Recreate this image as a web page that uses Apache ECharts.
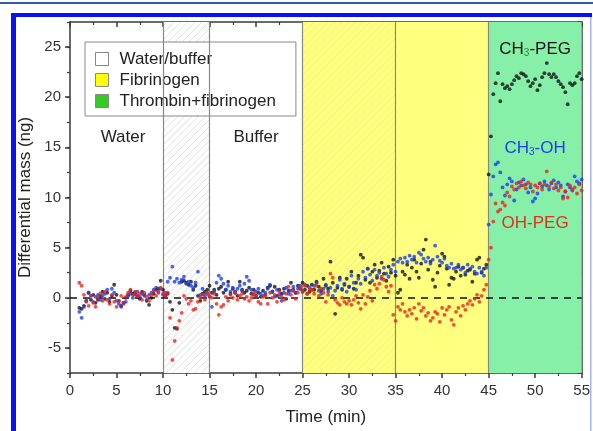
<!DOCTYPE html>
<html>
<head>
<meta charset="utf-8">
<script src="https://cdn.jsdelivr.net/npm/echarts@6/dist/echarts.min.js"></script>
<style>
  html, body { margin: 0; padding: 0; background: #fff; }
  #chart { width: 593px; height: 431px; }
</style>
</head>
<body>
<div id="chart"></div>
<script>
// sampling: first point at 1 min, one point every 0.25 min
const T0 = 1;
const DT = 0.25;

// CH3-PEG (black)
const ch3Peg = [
  -1.0,-1.1,-0.8,-0.3,0.5,-0.2,0.3,-0.5,-0.2,0.2,0.6,-0.1,0.5,-0.4,0.2,1.3,0.3,-0.3,-0.8,-0.5,
  0.0,0.3,0.7,0.4,0.5,0.2,-0.1,0.6,0.3,-0.3,-0.7,0.0,0.4,0.8,0.9,1.7,0.8,0.2,0.4,-0.4,
  -1.2,-3.0,-3.1,-0.5,1.6,1.7,1.5,1.3,1.6,0.8,1.2,0.2,-0.3,0.4,0.6,0.8,1.2,0.5,0.8,0.3,
  0.9,1.1,0.5,0.8,1.6,0.4,0.9,0.6,0.2,1.6,0.8,0.5,0.7,1.0,0.4,0.8,0.2,0.5,0.1,0.7,
  0.3,1.0,1.2,0.6,1.1,0.2,0.8,0.4,0.9,-0.1,0.7,1.5,0.8,0.5,1.2,0.9,1.5,0.8,1.2,0.6,
  1.3,0.8,1.6,1.1,0.7,1.9,1.2,0.9,3.6,1.5,-1.6,1.0,2.0,0.8,1.3,1.9,1.1,2.6,0.9,1.5,
  2.2,4.3,4.0,1.8,2.9,1.5,2.6,3.3,2.0,2.7,3.5,2.4,1.7,3.1,2.5,3.8,2.2,0.5,0.8,2.6,
  2.3,3.3,1.9,3.0,3.8,2.6,2.0,3.4,4.8,5.8,2.8,3.6,1.8,1.1,2.5,3.2,4.4,4.1,2.9,1.3,
  2.0,1.9,2.6,3.1,2.2,3.0,2.3,2.7,2.8,1.6,2.4,3.8,4.0,2.5,2.9,3.3,12.3,16.1,20.3,21.4,
  22.4,19.6,21.3,20.9,21.1,20.8,21.3,21.7,22.1,21.9,22.4,22.3,22.1,21.6,21.1,21.4,21.8,20.7,21.2,22.0,
  22.4,23.4,22.3,22.0,22.3,22.0,21.6,21.3,21.0,20.5,19.3,21.4,21.2,21.4,22.1,22.4,21.8
];

// CH3-OH (blue)
const ch3Oh = [
  -1.4,-2.0,-0.9,-0.3,0.5,0.2,-0.4,0.1,0.3,-0.2,0.2,0.4,0.8,-0.1,0.9,0.5,-0.3,-0.6,-0.9,-0.5,
  -0.4,0.2,0.4,0.0,0.3,0.6,0.1,0.4,0.2,-0.2,0.3,0.5,0.8,1.0,0.5,0.9,0.3,0.5,1.6,2.0,
  3.1,1.6,1.9,1.5,1.8,2.1,1.4,1.6,1.2,1.0,1.5,2.6,0.3,0.9,0.2,0.4,0.1,-0.9,0.6,1.5,
  2.2,1.9,1.4,0.8,1.2,0.6,1.0,0.5,0.9,1.2,0.7,1.4,2.1,1.7,0.8,0.3,0.6,0.9,0.4,0.2,
  0.5,0.9,1.3,0.6,0.1,0.8,0.3,-0.3,0.5,1.0,0.4,0.7,1.1,0.5,0.9,1.2,0.6,1.3,0.4,1.0,
  0.8,1.2,1.5,0.7,0.4,0.9,1.3,0.6,1.0,0.2,0.7,1.2,1.8,0.9,1.4,0.6,1.1,2.2,1.5,0.8,
  1.9,1.4,2.6,2.0,2.9,2.3,1.7,2.8,2.2,2.5,1.9,3.0,2.4,2.1,2.8,3.3,2.6,3.6,3.9,3.5,
  4.0,3.6,4.2,3.8,4.1,3.5,4.5,4.3,3.9,3.6,4.0,3.4,3.8,5.2,4.1,3.7,3.5,3.9,3.2,3.0,
  3.4,2.9,3.0,3.3,2.8,3.0,2.5,3.3,2.9,3.1,2.6,2.4,3.0,2.6,2.2,3.0,7.3,10.3,12.1,13.3,
  13.5,12.5,11.0,10.2,11.3,11.9,11.6,9.7,10.8,11.5,11.2,11.8,11.3,10.5,11.0,9.6,9.9,10.4,11.4,11.1,
  11.6,11.2,10.8,11.4,11.7,11.0,11.5,11.2,10.1,10.6,11.3,11.0,10.7,12.1,11.6,11.4,11.8
];

// OH-PEG (red)
const ohPeg = [
  1.5,1.2,0.3,-0.4,-0.8,0.2,-0.5,-0.9,0.0,0.4,-0.3,0.6,-0.2,-0.6,0.3,-0.4,-0.9,-0.3,0.2,-0.6,
  0.1,0.5,0.8,0.3,0.6,0.2,0.4,-0.2,0.5,0.1,-0.3,0.3,0.7,0.2,0.6,1.0,0.4,0.2,0.5,-2.0,
  -6.2,-4.3,-3.0,-2.3,-1.5,0.2,-0.1,-0.6,-0.3,-1.2,-1.1,-0.4,0.0,0.3,-0.2,0.5,0.2,0.0,0.4,-0.6,
  -1.7,-0.9,-0.7,0.1,-0.3,0.3,0.0,0.5,-0.2,0.2,0.4,-0.1,0.1,-0.3,0.0,0.4,0.2,-0.4,-0.6,0.1,
  0.2,-0.6,0.5,0.0,0.3,-0.4,0.6,0.1,-0.2,0.4,1.1,0.3,0.7,-0.1,0.5,1.0,0.6,1.2,0.4,0.8,
  0.8,0.4,1.2,0.2,0.9,0.5,-0.4,0.3,2.4,2.0,-0.2,-0.5,-0.7,0.0,-0.4,-0.6,-0.3,-0.7,-0.2,0.2,
  -0.5,-1.1,0.3,-0.6,0.1,0.7,-0.3,1.3,0.9,1.4,2.1,1.8,1.1,0.6,1.2,-1.7,-2.3,-0.9,-1.2,-0.6,
  -1.4,-1.8,-1.2,-1.6,-1.0,-2.1,-0.6,-1.3,-1.0,-1.8,-1.5,-2.3,-2.0,-1.4,-1.6,-2.4,-1.0,-1.7,-1.2,-0.9,
  -2.2,-2.7,-1.4,-1.0,-1.8,-0.8,-1.2,-0.6,-0.3,-0.7,-0.1,0.3,-0.4,0.2,0.8,1.3,3.8,5.0,7.6,9.4,
  8.6,8.8,9.5,9.2,10.5,10.1,11.1,10.8,11.4,11.0,11.6,11.2,10.9,11.5,11.3,10.6,11.2,11.0,11.4,10.8,
  11.3,12.6,11.1,11.5,10.9,11.3,10.7,11.0,9.9,10.6,10.0,11.2,10.8,11.0,10.4,11.3,10.7
];

// phases (min)
const waterBuffer = [10, 15];
const fibrinogenHatched = [25, 35];
const fibrinogen = [35, 45];
const thrombin = [45, 55];
const phaseLines = [10, 15, 25, 35, 45];

const yTicks = [-5, 0, 5, 10, 15, 20, 25];

const FONT = '"Liberation Sans", Arial, sans-serif';

function hatch(bg, line) {
  const s = 7;
  const c = document.createElement('canvas');
  c.width = s; c.height = s;
  const g = c.getContext('2d');
  g.fillStyle = bg;
  g.fillRect(0, 0, s, s);
  g.strokeStyle = line;
  g.lineWidth = 1;
  g.beginPath();
  g.moveTo(0, s); g.lineTo(s, 0);
  g.moveTo(-1, 1); g.lineTo(1, -1);
  g.moveTo(s - 1, s + 1); g.lineTo(s + 1, s - 1);
  g.stroke();
  return c;
}

function toPoints(values) {
  return values.map((v, i) => [T0 + i * DT, v]);
}

const chart = echarts.init(document.getElementById('chart'));

const axisLineStyle = { color: '#3a3a3a', width: 1.5 };

chart.setOption({
  animation: false,
  textStyle: { fontFamily: FONT },
  grid: { left: 70, right: 10, top: 22, bottom: 58 },
  legend: {
    left: 85, top: 42,
    orient: 'vertical',
    icon: 'rect',
    itemWidth: 13, itemHeight: 13, itemGap: 3,
    backgroundColor: '#fff',
    borderColor: '#888', borderWidth: 1,
    padding: [8, 20, 6, 10],
    textStyle: { fontSize: 17, color: '#222', lineHeight: 18, padding: [0, 0, 0, 6] },
    data: [
      { name: 'Water/buffer', itemStyle: { color: '#fff', borderColor: '#888', borderWidth: 1 } },
      { name: 'Fibrinogen', itemStyle: { color: '#ffff00', borderColor: '#888', borderWidth: 1 } },
      { name: 'Thrombin+fibrinogen', itemStyle: { color: '#33cc22', borderColor: '#888', borderWidth: 1 } }
    ]
  },
  xAxis: [
    {
      type: 'value', min: 0, max: 55, interval: 5, position: 'bottom',
      axisLine: { onZero: false, lineStyle: axisLineStyle },
      axisTick: { length: 5, lineStyle: axisLineStyle },
      minorTick: { show: true, splitNumber: 2, length: 3, lineStyle: { color: '#3a3a3a', width: 1.2 } },
      axisLabel: { fontSize: 15, color: '#333', margin: 10 },
      splitLine: { show: false },
      name: 'Time (min)', nameLocation: 'middle', nameGap: 36,
      nameTextStyle: { fontSize: 17, color: '#222' }
    },
    {
      type: 'value', min: 0, max: 55, interval: 5, position: 'top',
      axisLine: { onZero: false, lineStyle: axisLineStyle },
      axisTick: { inside: true, length: 5, lineStyle: axisLineStyle },
      minorTick: { show: true, splitNumber: 2, length: 3, lineStyle: { color: '#3a3a3a', width: 1.2 } },
      axisLabel: { show: false },
      splitLine: { show: false }
    }
  ],
  yAxis: [
    {
      type: 'value', min: -7.5, max: 27.5, interval: 2.5, position: 'left',
      axisLine: { onZero: false, lineStyle: axisLineStyle },
      axisTick: { length: 5, customValues: yTicks, lineStyle: axisLineStyle },
      axisLabel: { fontSize: 15, color: '#333', margin: 9, customValues: yTicks },
      splitLine: { show: false },
      name: 'Differential mass (ng)', nameLocation: 'middle', nameGap: 30,
      nameTextStyle: { fontSize: 17, color: '#222' }
    },
    {
      type: 'value', min: -7.5, max: 27.5, interval: 2.5, position: 'left',
      axisLine: { show: false },
      axisTick: { length: 3, lineStyle: { color: '#3a3a3a', width: 1.2 } },
      axisLabel: { show: false },
      splitLine: { show: false }
    },
    {
      type: 'value', min: -7.5, max: 27.5, interval: 2.5, position: 'right',
      axisLine: { onZero: false, lineStyle: axisLineStyle },
      axisTick: { inside: true, length: 4, lineStyle: axisLineStyle },
      axisLabel: { show: false },
      splitLine: { show: false }
    }
  ],
  graphic: [
    { type: 'rect', shape: { x: 0, y: 2, width: 593, height: 2 }, style: { fill: '#2b5fae' }, z: 100 },
    { type: 'rect', shape: { x: 11, y: 13, width: 581, height: 4 }, style: { fill: '#0a10f4' }, z: 100 },
    { type: 'rect', shape: { x: 11, y: 13, width: 5, height: 418 }, style: { fill: '#0a10f4' }, z: 100 },
    { type: 'rect', shape: { x: 590, y: 17, width: 1.5, height: 414 }, style: { fill: '#aab2f0' }, z: 100 }
  ],
  series: [
    {
      name: 'Water/buffer', type: 'line', data: [], z: 1,
      markArea: {
        silent: true,
        itemStyle: { color: { image: hatch('#ffffff', '#e4e4e4'), repeat: 'repeat' } },
        data: [[{ xAxis: waterBuffer[0] }, { xAxis: waterBuffer[1] }]]
      }
    },
    {
      name: 'Fibrinogen', type: 'line', data: [], z: 1,
      markArea: {
        silent: true,
        data: [
          [{ xAxis: fibrinogenHatched[0], itemStyle: { color: { image: hatch('#ffff80', '#f0ee7c'), repeat: 'repeat' } } },
           { xAxis: fibrinogenHatched[1] }],
          [{ xAxis: fibrinogen[0], itemStyle: { color: '#ffff80' } }, { xAxis: fibrinogen[1] }]
        ]
      }
    },
    {
      name: 'Thrombin+fibrinogen', type: 'line', data: [], z: 1,
      markArea: {
        silent: true,
        itemStyle: { color: '#86f0a8' },
        data: [[{ xAxis: thrombin[0] }, { xAxis: thrombin[1] }]]
      },
      markLine: {
        silent: true, symbol: 'none',
        label: { show: false },
        lineStyle: { color: '#8a8a7a', width: 1.2, type: 'solid' },
        data: phaseLines.map(x => ({ xAxis: x }))
      }
    },
    {
      name: 'baseline', type: 'line', data: [], z: 2,
      markLine: {
        silent: true, symbol: 'none',
        label: { show: false },
        lineStyle: { color: '#111', width: 1.5, type: [7, 6] },
        data: [{ yAxis: 0 }]
      },
      markPoint: {
        silent: true,
        symbol: 'rect', symbolSize: 1,
        itemStyle: { color: 'transparent' },
        label: {
          show: true, position: 'inside', fontSize: 17, color: '#222',
          rich: {
            sub: { fontSize: 10, verticalAlign: 'bottom', padding: [8, 0, 0, 0] }
          }
        },
        data: [
          { coord: [5.7, 16], label: { formatter: 'Water' } },
          { coord: [20, 16], label: { formatter: 'Buffer' } },
          { coord: [50, 24.8], label: { formatter: 'CH{sub|3}-PEG', color: '#111', rich: { sub: { color: '#2a8a3a', fontSize: 10, padding: [8, 0, 0, 0] } } } },
          { coord: [50, 14.9], label: { formatter: 'CH{sub|3}-OH', color: '#1a44e6', rich: { sub: { color: '#1a44e6', fontSize: 10, padding: [8, 0, 0, 0] } } } },
          { coord: [50, 7.4], label: { formatter: 'OH-PEG', color: '#e0301e' } }
        ]
      }
    },
    {
      name: 'CH3-PEG', type: 'scatter', z: 5, symbolSize: 3.8,
      itemStyle: { color: '#141414' },
      data: toPoints(ch3Peg)
    },
    {
      name: 'CH3-OH', type: 'scatter', z: 5, symbolSize: 3.8,
      itemStyle: { color: '#1c3ff0' },
      data: toPoints(ch3Oh)
    },
    {
      name: 'OH-PEG', type: 'scatter', z: 5, symbolSize: 3.8,
      itemStyle: { color: '#ec2418' },
      data: toPoints(ohPeg)
    }
  ]
});
</script>
</body>
</html>
